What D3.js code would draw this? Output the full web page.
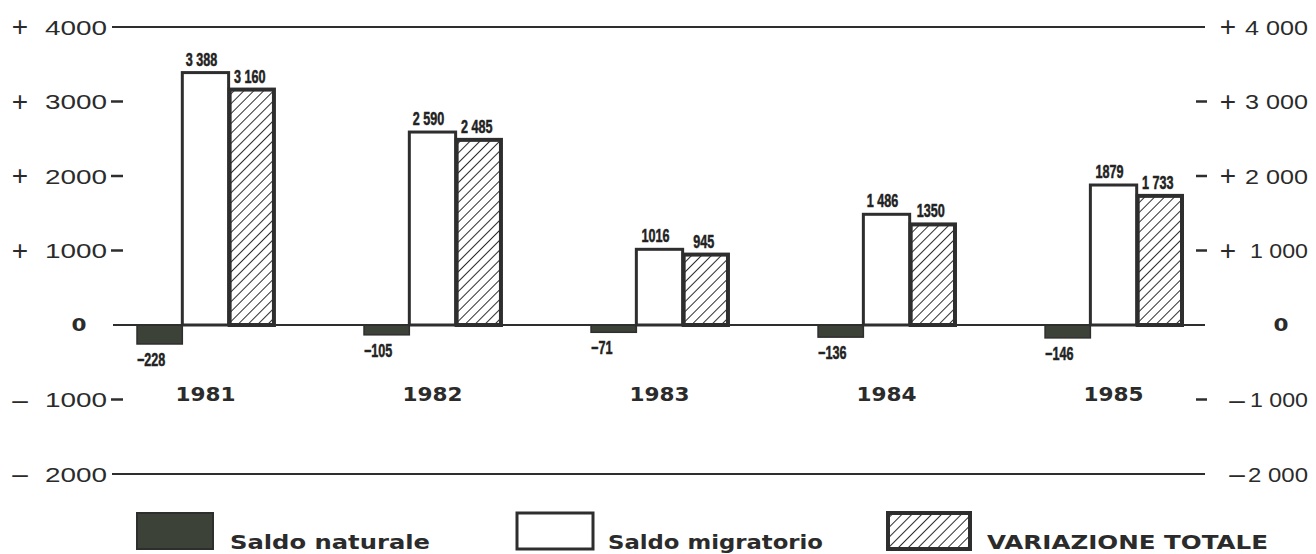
<!DOCTYPE html>
<html>
<head>
<meta charset="utf-8">
<script src="https://cdn.jsdelivr.net/npm/d3@7"></script>
<style>
  body { margin: 0; background: #fff; }
  svg { display: block; }
  .tick { font-family: "Liberation Sans", Arial, sans-serif; font-size: 21px; fill: #2b2b2b; }
  .sign { font-family: "Liberation Sans", Arial, sans-serif; font-size: 28px; fill: #2b2b2b; }
  .zero { font-family: "DejaVu Sans", sans-serif; font-weight: bold; font-size: 17px; fill: #2b2b2b; }
  .val { font-family: "Liberation Sans", Arial, sans-serif; font-size: 18px; fill: #222; stroke: #222; stroke-width: 0.5; }
  .year { font-family: "DejaVu Sans", sans-serif; font-weight: bold; font-size: 20px; fill: #2b2b2b; }
  .leg { font-family: "DejaVu Sans", sans-serif; font-weight: bold; font-size: 19px; fill: #2b2b2b; }
</style>
</head>
<body>
<svg id="chart" width="1316" height="554"></svg>
<script>
const svg = d3.select("#chart");

// data
const years = ["1981", "1982", "1983", "1984", "1985"];
const saldoNaturale = [-228, -105, -71, -136, -146];
const saldoMigratorio = [3388, 2590, 1016, 1486, 1879];
const variazioneTotale = [3160, 2485, 945, 1350, 1733];
const valueLabels = [
    ["\u2212228", "3 388", "3 160"],
    ["\u2212105", "2 590", "2 485"],
    ["\u221271", "1016", "945"],
    ["\u2212136", "1 486", "1350"],
    ["\u2212146", "1879", "1 733"]
];
const tickValues = [4000, 3000, 2000, 1000, 0, -1000, -2000];
const leftTickNumbers = ["4000", "3000", "2000", "1000", "0", "1000", "2000"];
const rightTickNumbers = ["4 000", "3 000", "2 000", "1 000", "0", "1 000", "2 000"];
const seriesNames = ["Saldo naturale", "Saldo migratorio", "VARIAZIONE TOTALE"];

const ink = "#2e2e2e";
const darkFill = "#3d4238";

const y = d3.scaleLinear().domain([-2000, 4000]).range([474, 27]);
const x = d3.scaleBand().domain(years).range([136, 1183]).paddingInner(0.388).paddingOuter(0);
const xs = d3.scaleBand().domain([0, 1, 2]).range([0, x.bandwidth()]);

// hatch pattern
const defs = svg.append("defs");
const pat = defs.append("pattern")
    .attr("id", "hatch")
    .attr("patternUnits", "userSpaceOnUse")
    .attr("width", 7).attr("height", 7)
    .attr("patternTransform", "rotate(45)");
pat.append("rect").attr("width", 7).attr("height", 7).attr("fill", "#fff");
pat.append("line").attr("x1", 0).attr("y1", 0).attr("x2", 0).attr("y2", 7)
    .attr("stroke", ink).attr("stroke-width", 2);

// frame lines at +4000 and -2000
[4000, -2000].forEach(v => {
    svg.append("line")
        .attr("x1", 112).attr("x2", 1205)
        .attr("y1", y(v)).attr("y2", y(v))
        .attr("stroke", ink).attr("stroke-width", 2);
});

// axis labels, both sides
tickValues.forEach((v, i) => {
    const yy = y(v);
    if (v === 0) {
        [79, 1281].forEach(cx => {
            svg.append("text").attr("class", "zero")
                .attr("x", cx).attr("y", yy).attr("dy", "0.36em")
                .attr("text-anchor", "middle")
                .attr("textLength", 15).attr("lengthAdjust", "spacingAndGlyphs")
                .text("0");
        });
        return;
    }
    const sign = v > 0 ? "+" : "\u2013";
    // left
    svg.append("text").attr("class", "sign")
        .attr("x", 20).attr("y", yy).attr("dy", "0.33em")
        .attr("text-anchor", "middle").text(sign);
    svg.append("text").attr("class", "tick")
        .attr("x", 45).attr("y", yy).attr("dy", "0.36em")
        .attr("textLength", 62).attr("lengthAdjust", "spacingAndGlyphs")
        .text(leftTickNumbers[i]);
    // right
    const num = rightTickNumbers[i];
    const numW = num.startsWith("1") ? 58 : (v < 0 ? 60 : 63);
    svg.append("text").attr("class", "sign")
        .attr("x", v > 0 ? 1228 : 1237).attr("y", yy).attr("dy", "0.33em")
        .attr("text-anchor", "middle").text(sign);
    svg.append("text").attr("class", "tick")
        .attr("x", 1308 - numW).attr("y", yy).attr("dy", "0.36em")
        .attr("textLength", numW).attr("lengthAdjust", "spacingAndGlyphs")
        .text(num);
    if (v !== 4000 && v !== -2000) {
        svg.append("line")
            .attr("x1", 111).attr("x2", 123)
            .attr("y1", yy).attr("y2", yy)
            .attr("stroke", ink).attr("stroke-width", 2.5);
        svg.append("line")
            .attr("x1", 1196).attr("x2", 1207)
            .attr("y1", yy).attr("y2", yy)
            .attr("stroke", ink).attr("stroke-width", 2.5);
    }
});

// condensed value label
function valLabel(g, tx, ty, anchor, txt) {
    g.append("text").attr("class", "val")
        .attr("transform", `translate(${tx},${ty}) scale(0.7,1)`)
        .attr("text-anchor", anchor)
        .text(txt);
}

// bars
const groups = svg.selectAll("g.year")
    .data(years)
    .enter().append("g")
    .attr("class", "year")
    .attr("transform", d => `translate(${x(d)},0)`);

groups.each(function(yr, i) {
    const g = d3.select(this);
    const vals = [saldoNaturale[i], saldoMigratorio[i], variazioneTotale[i]];
    const bw = xs.bandwidth();

    // saldo naturale (negative, dark)
    g.append("rect")
        .attr("x", xs(0) + 1).attr("y", y(0))
        .attr("width", bw - 1).attr("height", Math.max(y(vals[0]) - y(0), 4) + 2)
        .attr("fill", darkFill).attr("stroke", ink).attr("stroke-width", 1.5);

    // saldo migratorio (white)
    g.append("rect")
        .attr("x", xs(1)).attr("y", y(vals[1]))
        .attr("width", bw).attr("height", y(0) - y(vals[1]))
        .attr("fill", "#fff").attr("stroke", ink).attr("stroke-width", 3);

    // variazione totale (hatched)
    g.append("rect")
        .attr("x", xs(2) + 1).attr("y", y(vals[2]))
        .attr("width", bw - 2).attr("height", y(0) - y(vals[2]))
        .attr("fill", "url(#hatch)").attr("stroke", ink).attr("stroke-width", 4);

    // labels
    valLabel(g, xs(0) + 1, Math.max(y(vals[0]), y(0) + 4) + 24, "start", valueLabels[i][0]);
    valLabel(g, xs(1) + bw / 2 - 4, y(vals[1]) - 7, "middle", valueLabels[i][1]);
    valLabel(g, xs(2) + bw / 2 - 2, y(vals[2]) - 7, "middle", valueLabels[i][2]);

    g.append("text").attr("class", "year")
        .attr("x", x.bandwidth() / 2 - 30).attr("y", 401)
        .attr("textLength", 60).attr("lengthAdjust", "spacingAndGlyphs")
        .text(yr);
});

// zero baseline
svg.append("line")
    .attr("x1", 113).attr("x2", 1205)
    .attr("y1", y(0)).attr("y2", y(0))
    .attr("stroke", ink).attr("stroke-width", 2);

// legend
const legendItems = [
    { x: 137, w: 76, fill: darkFill, sw: 2, tx: 230, tw: 200 },
    { x: 517, w: 76, fill: "#fff", sw: 3, tx: 608, tw: 215 },
    { x: 888, w: 82, fill: "url(#hatch)", sw: 4, tx: 987, tw: 281 }
];
legendItems.forEach((it, i) => {
    svg.append("rect")
        .attr("x", it.x).attr("y", 513)
        .attr("width", it.w).attr("height", 36)
        .attr("fill", it.fill).attr("stroke", ink).attr("stroke-width", it.sw);
    svg.append("text").attr("class", "leg")
        .attr("x", it.tx).attr("y", 549)
        .attr("textLength", it.tw).attr("lengthAdjust", "spacingAndGlyphs")
        .text(seriesNames[i]);
});
</script>
</body>
</html>
